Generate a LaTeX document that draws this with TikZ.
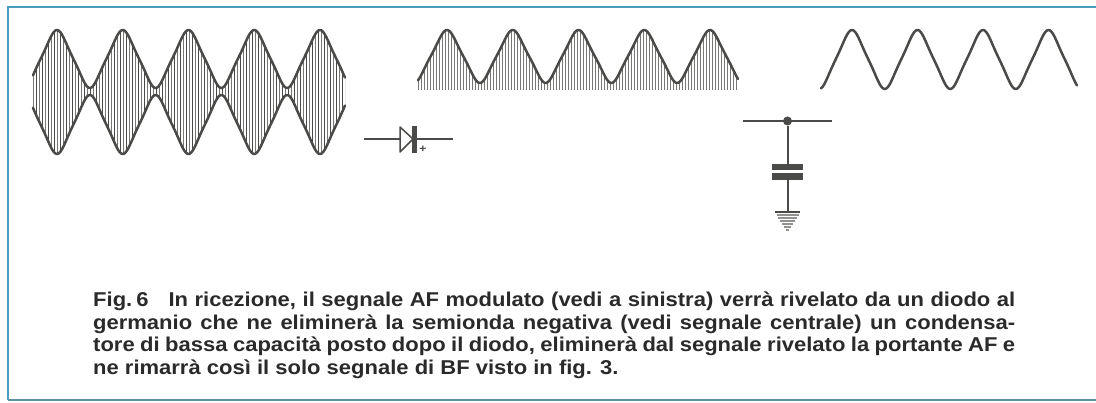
\documentclass[tikz,border=0pt]{standalone}
\usepackage{fontspec}
\setmainfont[BoldFeatures={FakeStretch=1.1}]{Liberation Sans}
\usetikzlibrary{positioning}
\definecolor{frameC}{HTML}{4A9DBB}
\definecolor{frameD}{HTML}{5F8FA3}
\definecolor{ink}{HTML}{4A4A48}
\definecolor{hatchC}{HTML}{777775}
\definecolor{capt}{HTML}{2A2A2A}
\tikzset{
  frame/.style={draw=frameC, line width=1.3pt},
  wave/.style={draw=ink, line width=2.5pt, line join=round, line cap=round},
  hatchthin/.style={draw=hatchC, line width=1.2pt},
  hatchbold/.style={draw=ink, line width=1.4pt},
  wire/.style={draw=ink, line width=2pt},
  plate/.style={fill=ink, draw=none},
  captiontext/.style={font=\bfseries\fontsize{20}{22.4}\selectfont, text=capt,
                      align=left, inner sep=0pt, anchor=north west},
}
\newcommand{\capline}[1]{\hbox to 922pt{#1}}
\begin{document}
\begin{tikzpicture}[x=1pt, y=-1pt,
    declare function={shp(\t)=(cos(\t)+0.07*cos(3*\t))/1.07;}]
  \useasboundingbox (0,0) rectangle (1096,403);
  \fill[white] (0,0) rectangle (1096,403);

  % frame, open on the right
  \draw[frame] (1096,7) -- (8,7) -- (8,400);
  \draw[frame, draw=frameD] (8,400) -- (1096,400);

  % modulated signal on the left
  \begin{scope}
    \clip plot[domain=33:345, samples=240] (\x, {59-29*shp((\x-57)/65.75*360)})
      -- plot[domain=345:33, samples=240] (\x, {124.5+29.5*shp((\x-57)/65.75*360)}) -- cycle;
    \foreach \hx in {33,36,...,345} \draw[hatchthin] (\hx+0.5,25) -- (\hx+0.5,160);
    \foreach \hx in {36,42,...,345} \draw[hatchbold] (\hx+0.5,25) -- (\hx+0.5,160);
  \end{scope}
  \draw[wave] plot[domain=33:345, samples=240] (\x, {59-29*shp((\x-57)/65.75*360)});
  \draw[wave] plot[domain=33:345, samples=240] (\x, {124.5+29.5*shp((\x-57)/65.75*360)});

  % rectified signal in the centre
  \begin{scope}
    \clip plot[domain=418:738, samples=240] (\x, {56.5-26.5*shp((\x-447)/65.75*360)})
      -- (738,90) -- (418,90) -- cycle;
    \foreach \hx in {418,421,...,738} \draw[hatchthin, line width=1pt] (\hx+0.5,25) -- (\hx+0.5,95);
  \end{scope}
  \draw[wave] plot[domain=418:738, samples=240] (\x, {56.5-26.5*shp((\x-447)/65.75*360)});

  % audio signal on the right
  \draw[wave] plot[domain=821:1077, samples=200] (\x, {59.5-29.5*shp((\x-852)/65.5*360)});

  % diode
  \coordinate (dIn) at (364,139);
  \coordinate (dA) at (400,139);
  \coordinate (dK) at (414,139);
  \coordinate (dOut) at (453,139);
  \draw[wire] (dIn) -- (dA);
  \draw[wire] (dK) -- (dOut);
  \draw[draw=ink, line width=1.5pt, line join=round] (400,127) -- (413,139) -- (400,152) -- cycle;
  \fill[plate] (412,126) rectangle (417,153);
  \node[font=\bfseries\fontsize{11}{11}\selectfont, text=ink, inner sep=0pt] (dPlus) at (423,149) {+};

  % capacitor to ground
  \coordinate (cIn) at (743,121);
  \coordinate (cOut) at (832,121);
  \node[circle, fill=ink, inner sep=0pt, minimum size=9pt] (cDot) at (787.5,121) {};
  \node[plate, minimum width=31pt, minimum height=6.5pt, inner sep=0pt] (cTop) at (787.5,167) {};
  \node[plate, minimum width=31pt, minimum height=6.5pt, inner sep=0pt] (cBot) at (787.5,176.5) {};
  \coordinate (gnd) at (787.5,212);
  \draw[wire] (cIn) -- (cOut);
  \draw[wire] (cDot) -- (cTop);
  \draw[wire] (cBot) -- (gnd);

  % ground, a triangle in shaded bars
  \draw[wire, line width=1.4pt] (775,212) -- (800,212);
  \foreach \gy/\gw in {215/11, 218/9.5, 221/7.5, 224/5.5, 227/3.5, 230/1.5}
    \draw[draw=ink!60, line width=2pt] (787.5-\gw,\gy) -- (787.5+\gw,\gy);

  % caption
  \node[captiontext] (caption) at (93,292) {%
    \capline{Fig.\kern4pt 6\kern20pt In ricezione, il segnale AF modulato (vedi a sinistra) verrà rivelato da un diodo al}\\
    \capline{germanio che ne eliminerà la semionda negativa (vedi segnale centrale) un condensa-}\\
    \capline{tore di bassa capacità posto dopo il diodo, eliminerà dal segnale rivelato la portante AF e}\\
    ne rimarrà così il solo segnale di BF visto in fig. 3.};
\end{tikzpicture}
\end{document}
